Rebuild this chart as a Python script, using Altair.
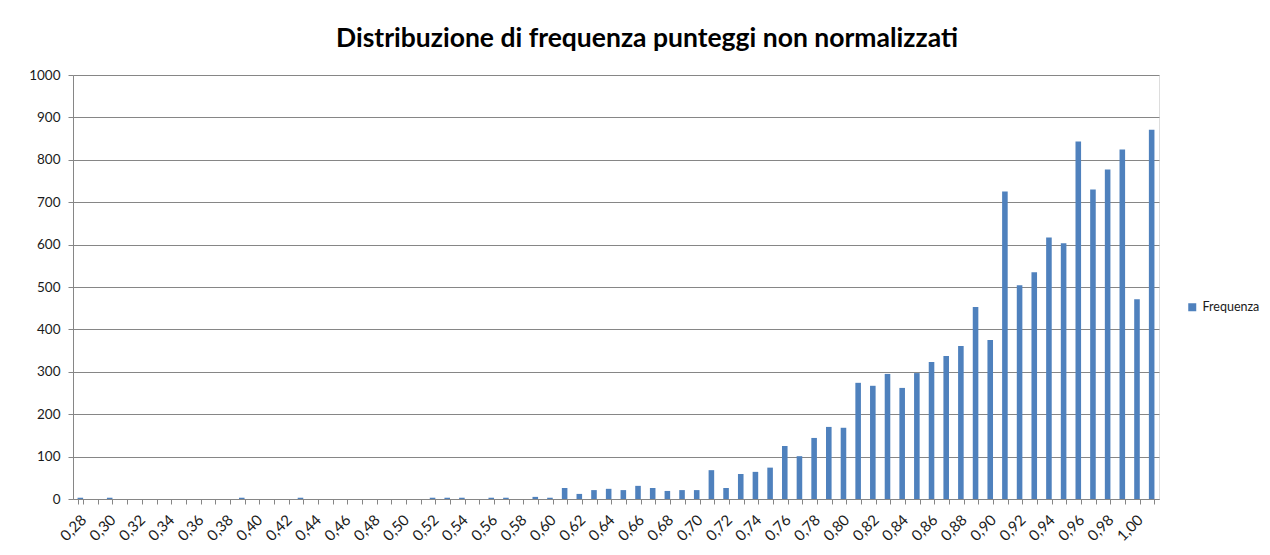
import altair as alt
import pandas as pd

categorie = [
    "0,28", "0,29", "0,30", "0,31", "0,32", "0,33", "0,34", "0,35", "0,36", "0,37",
    "0,38", "0,39", "0,40", "0,41", "0,42", "0,43", "0,44", "0,45", "0,46", "0,47",
    "0,48", "0,49", "0,50", "0,51", "0,52", "0,53", "0,54", "0,55", "0,56", "0,57",
    "0,58", "0,59", "0,60", "0,61", "0,62", "0,63", "0,64", "0,65", "0,66", "0,67",
    "0,68", "0,69", "0,70", "0,71", "0,72", "0,73", "0,74", "0,75", "0,76", "0,77",
    "0,78", "0,79", "0,80", "0,81", "0,82", "0,83", "0,84", "0,85", "0,86", "0,87",
    "0,88", "0,89", "0,90", "0,91", "0,92", "0,93", "0,94", "0,95", "0,96", "0,97",
    "0,98", "0,99", "1,00", "Altro",
]

frequenza = [
    3, 0, 3, 0, 0, 0, 0, 0, 0, 0,
    0, 3, 0, 0, 0, 3, 0, 0, 0, 0,
    0, 0, 0, 0, 3, 3, 3, 0, 3, 3,
    0, 5, 3, 26, 12, 21, 24, 21, 31, 26,
    19, 21, 21, 68, 26, 59, 64, 74, 125, 101,
    144, 170, 168, 274, 267, 295, 262, 297, 323, 337,
    361, 453, 375, 725, 504, 535, 617, 603, 843, 730,
    777, 824, 471, 871,
]

serie = "Frequenza"
y_ticks = [0, 100, 200, 300, 400, 500, 600, 700, 800, 900, 1000]

df = pd.DataFrame({"classe": categorie, "frequenza": frequenza, "serie": serie})

FONT = "Lato"

chart = alt.Chart(df).mark_bar(color="#4F81BD").encode(
    x=alt.X(
        "classe:N",
        sort=categorie,
        scale=alt.Scale(paddingInner=0.62, paddingOuter=0.31),
        axis=alt.Axis(
            title=None,
            labelAngle=-45,
            labelAlign="right",
            labelBaseline="middle",
            labelPadding=13,
            labelOffset=3,
            labelOverlap=False,
            labelExpr="(datum.label == 'Altro' || test(/[13579]$/, datum.label)) ? '' : datum.label",
            tickBand="extent",
            tickSize=5,
            tickColor="#868686",
            domainColor="#868686",
            labelFontSize=15,
            labelFont=FONT,
            labelColor="#1a1a1a",
            grid=False,
        ),
    ),
    y=alt.Y(
        "frequenza:Q",
        scale=alt.Scale(domain=[0, 1000], nice=False),
        axis=alt.Axis(
            title=None,
            values=y_ticks,
            format="d",
            tickSize=5,
            tickColor="#868686",
            domainColor="#868686",
            gridColor="#868686",
            gridWidth=1,
            labelFontSize=13.5,
            labelFont=FONT,
            labelColor="#1a1a1a",
            labelPadding=8,
        ),
    ),
    color=alt.Color(
        "serie:N",
        scale=alt.Scale(range=["#4F81BD"]),
        legend=alt.Legend(
            title=None,
            orient="none",
            legendX=1113,
            legendY=226,
            symbolType="square",
            symbolSize=64,
            symbolStrokeWidth=0,
            labelFontSize=12.5,
            labelFont=FONT,
            labelColor="#1a1a1a",
            labelOffset=4,
            labelLimit=200,
        ),
    ),
).properties(
    width=1086,
    height=424,
    title=alt.TitleParams(
        "Distribuzione di frequenza punteggi non normalizzati",
        font=FONT,
        fontSize=26.5,
        fontWeight="bold",
        color="#000000",
        anchor="middle",
        dx=31,
        offset=16,
    ),
    padding={"left": 65, "top": 67, "right": 103, "bottom": 48},
    autosize=alt.AutoSizeParams(type="none"),
).configure_view(
    stroke=None
).configure(
    background="white"
)

chart.save("out.html", embed_options={"renderer": "svg", "actions": False})
